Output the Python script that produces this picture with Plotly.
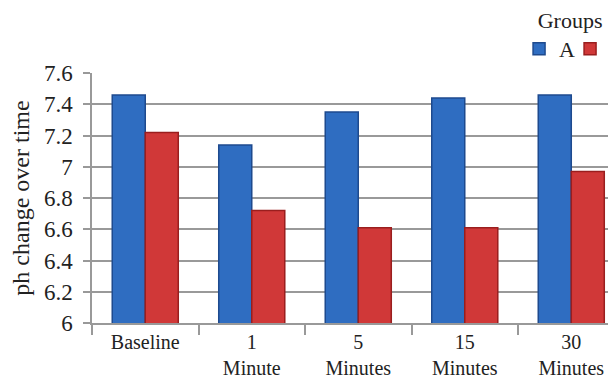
import plotly.graph_objects as go

categories = ["Baseline", "1<br>Minute", "5<br>Minutes", "15<br>Minutes", "30<br>Minutes"]
group_a = [7.46, 7.14, 7.35, 7.44, 7.46]
group_b = [7.22, 6.72, 6.61, 6.61, 6.97]
y_ticks = [6, 6.2, 6.4, 6.6, 6.8, 7, 7.2, 7.4, 7.6]
y_tick_text = ["6", "6.2", "6.4", "6.6", "6.8", "7", "7.2", "7.4", "7.6"]

FONT = "Liberation Serif"

fig = go.Figure()
fig.add_trace(go.Bar(
    name="A", x=categories, y=group_a,
    marker=dict(color="#2F6DC1", line=dict(color="#1E4A8E", width=1.5)),
))
fig.add_trace(go.Bar(
    name="B", x=categories, y=group_b,
    marker=dict(color="#D03838", line=dict(color="#9A1E1E", width=1.5)),
))

# the page body adds an 8px offset, so the figure is placed 8px up/left
fig.update_layout(
    width=616, height=381,
    margin=dict(l=84, r=8, t=65, b=66, autoexpand=False),
    paper_bgcolor="white", plot_bgcolor="white",
    barmode="group", bargap=0.38, bargroupgap=0.0,
    font=dict(family=FONT, size=20, color="#222"),
    legend=dict(
        title=dict(text="Groups", side="top center", font=dict(family=FONT, size=22)),
        orientation="h",
        x=0.815, xanchor="left", y=1.295, yanchor="top",
        font=dict(family=FONT, size=22), itemwidth=30, entrywidth=6,
        bgcolor="rgba(0,0,0,0)",
    ),
    xaxis=dict(
        range=[-0.5, 4.42], showgrid=False, showline=True, linecolor="#999", linewidth=1.5,
        ticks="outside", tickson="boundaries", ticklen=10, tickcolor="#999", tickwidth=1.5,
        tickfont=dict(family=FONT, size=20), automargin=False,
    ),
    yaxis=dict(
        range=[6, 7.6], tickvals=y_ticks, ticktext=y_tick_text,
        showgrid=True, gridcolor="#999", gridwidth=1.5,
        showline=True, linecolor="#999", linewidth=1.5,
        ticks="outside", ticklen=7, tickcolor="#999", tickwidth=1.5,
        ticklabelstandoff=6,
        tickfont=dict(family=FONT, size=23), zeroline=False, automargin=False,
        title=dict(text="ph change over time", font=dict(family=FONT, size=24), standoff=27),
    ),
)

fig.write_html("out.html")
